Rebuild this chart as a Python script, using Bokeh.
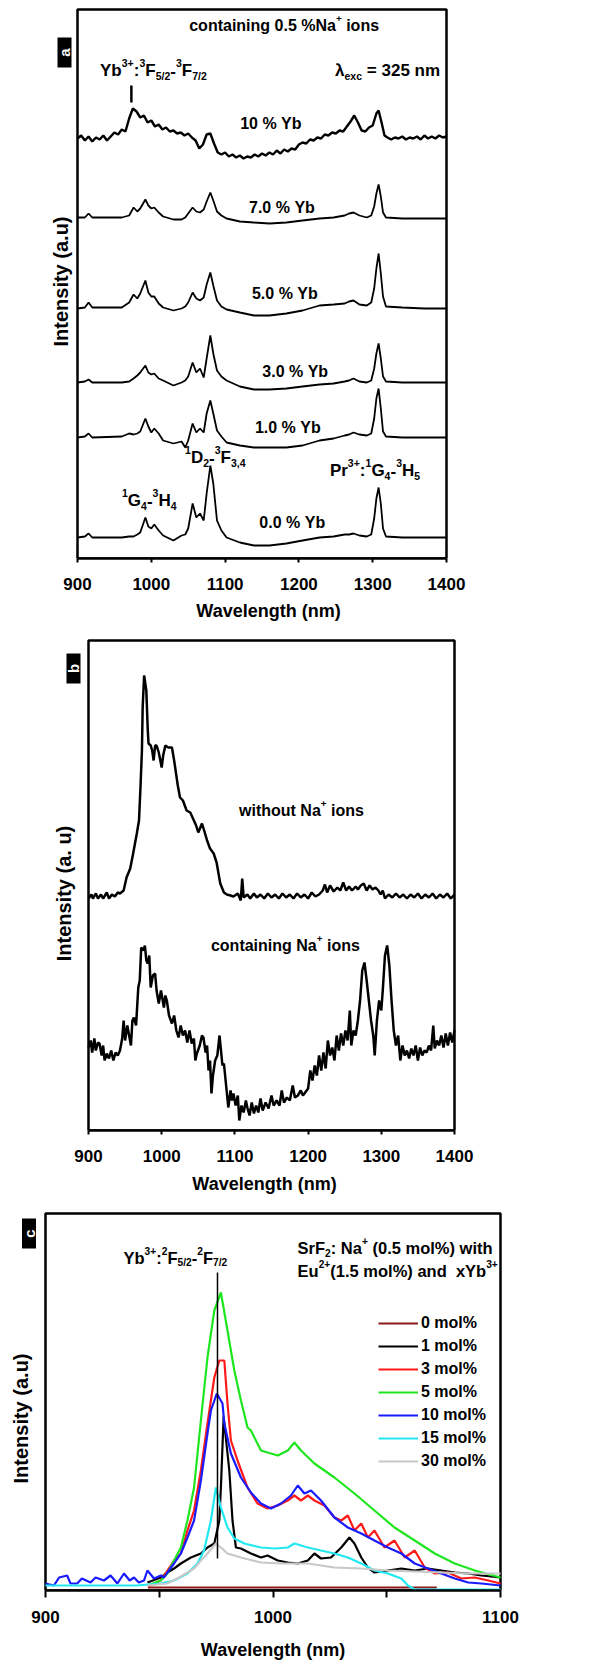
from math import pi
from bokeh.plotting import figure
from bokeh.models import Label, Legend, LegendItem, FixedTicker, Range1d
from bokeh.embed import file_html
from bokeh.resources import INLINE

FONT = "Liberation Sans"
NB = "\u00a0"

# ---------------- Panel a data (stacked spectra, a.u. incl. offsets) ----------------
a10_nm = [900, 905, 910, 915, 920, 925, 930, 935, 940, 945, 950, 955, 960, 965, 970, 975, 980, 985, 990, 995,
          1000, 1005, 1010, 1015, 1020, 1025, 1030, 1035, 1040, 1045, 1050, 1055, 1060, 1065, 1070, 1075, 1080, 1085, 1090, 1095,
          1100, 1105, 1110, 1115, 1120, 1125, 1130, 1135, 1140, 1145, 1150, 1155, 1160, 1165, 1170, 1175, 1180, 1185, 1190, 1195,
          1200, 1205, 1210, 1215, 1220, 1225, 1230, 1235, 1240, 1245, 1250, 1255, 1260, 1265, 1270, 1275, 1280, 1285, 1290, 1295,
          1300, 1305, 1308, 1312, 1316, 1320, 1325, 1330, 1335, 1340, 1345, 1350, 1355, 1360, 1365, 1370, 1375, 1380, 1385, 1390,
          1395, 1400]
a10_val = [420, 423, 418, 422, 417, 421, 419, 423, 418, 422, 426, 424, 429, 427, 440, 450, 447, 441, 443, 436,
           438, 432, 434, 429, 431, 427, 428, 425, 426, 423, 425, 421, 418, 410, 414, 424, 425, 415, 406, 404,
           406, 402, 404, 401, 403, 400, 402, 401, 404, 402, 405, 403, 406, 404, 408, 405, 409, 407, 410, 409,
           414, 416, 415, 419, 418, 421, 420, 424, 423, 426, 425, 428, 427, 432, 437, 443, 436, 428, 427, 431,
           433, 445, 448, 436, 423, 421, 419, 421, 420, 422, 419, 421, 420, 422, 419, 423, 420, 422, 420, 423,
           421, 422]

a_nm = [900, 910, 915, 920, 960, 970, 976, 981, 985, 992, 996, 1000, 1004, 1010, 1016, 1030, 1041, 1046, 1050, 1056,
        1061, 1066, 1071, 1075, 1080, 1084, 1089, 1095, 1102, 1120, 1139, 1160, 1183, 1205, 1228, 1247, 1262, 1268, 1274, 1282,
        1292, 1298, 1302, 1305, 1308, 1311, 1314, 1318, 1340, 1370, 1400]
a7_val = [341, 341, 345, 341, 341, 343, 351, 347, 350, 359, 353, 350, 351, 346, 342, 339, 339, 341, 345, 351,
          347, 346, 349, 357, 366, 358, 347, 343, 340, 337, 336, 335, 336, 338, 340, 341, 343, 345, 346, 343,
          341, 343, 352, 365, 374, 362, 346, 341, 340, 340, 340]
a5_val = [250, 251, 256, 251, 251, 256, 264, 260, 265, 278, 266, 262, 262, 255, 251, 248, 250, 252, 256, 266,
          260, 258, 261, 274, 286, 273, 258, 252, 249, 246, 243, 243, 245, 248, 253, 254, 255, 257, 258, 254,
          253, 256, 270, 290, 305, 285, 262, 252, 251, 250, 250]
a3_val = [176, 177, 179, 176, 176, 177, 180, 183, 186, 193, 186, 184, 185, 180, 178, 173, 176, 178, 182, 196,
          186, 190, 181, 200, 223, 205, 188, 182, 178, 172, 169, 169, 170, 172, 174, 175, 177, 178, 180, 177,
          176, 178, 190, 205, 215, 200, 182, 177, 176, 176, 176]
a1_val = [121, 122, 125, 121, 122, 125, 124, 125, 127, 140, 132, 126, 130, 125, 118, 115, 117, 111, 118, 135,
          126, 130, 126, 145, 158, 145, 128, 122, 116, 113, 111, 111, 111, 113, 118, 120, 123, 124, 126, 124,
          123, 125, 140, 160, 170, 150, 127, 122, 121, 121, 121]
a0_val = [21, 22, 25, 21, 21, 22, 22, 24, 26, 41, 32, 30, 34, 28, 23, 18, 23, 24, 30, 55,
          41, 45, 38, 65, 93, 75, 38, 28, 21, 16, 13, 13, 15, 18, 21, 22, 24, 24, 25, 23,
          22, 24, 40, 60, 71, 55, 30, 22, 21, 21, 21]
a_labels = ["10 % Yb", "7.0 % Yb", "5.0 % Yb", "3.0 % Yb", "1.0 % Yb", "0.0 % Yb"]
yb_marker_a_nm = [973]

# ---------------- Panel b data ----------------
b_wo_nm = [900, 904, 906, 910, 913, 917, 920, 925, 928, 932, 936, 940, 943, 948, 952, 957, 961, 966, 969, 971,
           973, 974, 976, 978, 979, 981, 982, 985, 987, 989, 991, 993, 996, 1000, 1002, 1005, 1009, 1014, 1017, 1019,
           1022, 1025, 1029, 1034, 1039, 1044, 1047, 1050, 1055, 1058, 1062, 1066, 1071, 1075, 1080, 1085, 1089, 1094, 1098, 1104,
           1108, 1110, 1112, 1117, 1121, 1126, 1130, 1135, 1140, 1145, 1150, 1155, 1160, 1165, 1170, 1175, 1180, 1185, 1190, 1195,
           1200, 1205, 1210, 1215, 1220, 1223, 1226, 1230, 1235, 1240, 1244, 1248, 1252, 1256, 1260, 1265, 1268, 1272, 1276, 1280,
           1284, 1288, 1292, 1296, 1299, 1302, 1305, 1310, 1315, 1320, 1325, 1330, 1335, 1340, 1345, 1350, 1355, 1360, 1365, 1370,
           1375, 1380, 1385, 1390, 1395, 1400]
b_wo_val = [232, 236, 232, 237, 232, 236, 232, 238, 232, 236, 234, 238, 237, 240, 253, 262, 277, 297, 310, 343,
            380, 423, 455, 445, 440, 400, 387, 385, 380, 370, 385, 385, 378, 363, 375, 385, 383, 383, 370, 360,
            345, 333, 330, 320, 318, 310, 305, 298, 307, 300, 290, 282, 277, 268, 247, 238, 236, 235, 234, 237,
            230, 252, 233, 236, 232, 237, 233, 236, 232, 237, 233, 236, 232, 237, 233, 236, 232, 237, 233, 236,
            232, 238, 234, 236, 240, 246, 238, 245, 239, 243, 240, 248, 240, 244, 240, 244, 241, 245, 247, 240,
            245, 241, 243, 240, 236, 240, 232, 236, 233, 237, 233, 236, 232, 236, 233, 237, 232, 236, 233, 237,
            232, 236, 233, 237, 232, 236]
b_na_nm = [900, 903, 905, 908, 910, 913, 915, 918, 920, 922, 925, 928, 931, 934, 937, 940, 943, 946, 948, 950,
           953, 955, 958, 960, 962, 965, 968, 970, 972, 975, 977, 979, 981, 983, 985, 988, 991, 993, 996, 999,
           1003, 1005, 1007, 1010, 1014, 1017, 1020, 1023, 1026, 1029, 1032, 1035, 1038, 1041, 1044, 1046, 1048, 1052, 1055, 1057,
           1060, 1062, 1064, 1066, 1068, 1070, 1073, 1076, 1079, 1081, 1083, 1085, 1088, 1091, 1094, 1096, 1098, 1101, 1104, 1106,
           1109, 1112, 1115, 1117, 1120, 1123, 1126, 1129, 1132, 1135, 1138, 1142, 1146, 1150, 1153, 1157, 1161, 1164, 1167, 1171,
           1175, 1179, 1182, 1186, 1190, 1193, 1196, 1200, 1203, 1206, 1209, 1212, 1215, 1218, 1221, 1224, 1227, 1230, 1233, 1236,
           1239, 1242, 1245, 1248, 1251, 1254, 1257, 1259, 1262, 1265, 1268, 1271, 1274, 1277, 1280, 1283, 1286, 1289, 1291, 1294,
           1297, 1300, 1302, 1305, 1308, 1311, 1314, 1317, 1320, 1323, 1326, 1329, 1332, 1335, 1338, 1341, 1344, 1347, 1350, 1353,
           1356, 1359, 1362, 1365, 1368, 1371, 1373, 1376, 1379, 1382, 1385, 1388, 1391, 1394, 1397, 1400]
b_na_val = [83, 90, 78, 92, 80, 88, 87, 75, 85, 70, 77, 72, 80, 70, 78, 75, 80, 92, 110, 90,
            105, 97, 85, 110, 113, 105, 143, 150, 183, 180, 185, 170, 167, 175, 143, 155, 157, 140, 127, 140,
            123, 135, 130, 115, 107, 115, 100, 93, 105, 95, 100, 88, 100, 87, 92, 70, 77, 85, 95, 93,
            78, 85, 60, 70, 37, 55, 70, 75, 95, 80, 65, 67, 45, 23, 40, 30, 37, 25, 35, 10,
            25, 18, 30, 23, 15, 28, 17, 25, 18, 32, 20, 28, 22, 35, 25, 30, 25, 40, 28, 33,
            30, 45, 33, 35, 40, 35, 38, 42, 60, 50, 65, 55, 75, 60, 78, 62, 90, 75, 83, 70,
            95, 80, 97, 85, 100, 90, 120, 85, 100, 95, 110, 130, 160, 168, 150, 130, 110, 95, 75, 110,
            130, 120, 140, 175, 185, 165, 130, 100, 85, 95, 70, 85, 75, 80, 72, 82, 75, 85, 70, 83,
            75, 80, 78, 85, 80, 105, 82, 90, 85, 95, 83, 97, 85, 98, 88, 100]

# ---------------- Panel c data ----------------
c_labels = ["0 mol%", "1 mol%", "3 mol%", "5 mol%", "10 mol%", "15 mol%", "30 mol%"]
c_colors = ["#8b1a1a", "#000000", "#ff1a1a", "#1ee61e", "#1a1aff", "#22e8f2", "#c8c8c8"]
c0_nm = [945, 1072]
c0_val = [1, 1]
c1_nm = [944.8, 950.7, 953.6, 956.5, 959.5, 963.9, 968.3, 971.2, 974.2, 976.4, 977.1, 978.3, 979.3, 980.8, 982.2,
         983.7, 985.9, 990.3, 994.7, 997.6, 1002.1, 1006.5, 1010.9, 1015.3, 1018.2, 1021.1, 1025.5, 1030, 1033.6,
         1035.8, 1038.8, 1041.7, 1044.6, 1050.5, 1056.4, 1062.3, 1068.1, 1074, 1079.9, 1085.8, 1091.6, 1100]
c1_val = [6, 11, 16, 20, 25, 31, 35, 41, 45, 68, 101, 172, 150, 118, 68,
          41, 40, 35, 31, 33, 28, 26, 25, 28, 35, 30, 31, 41, 51,
          45, 31, 21, 16, 18, 20, 18, 20, 18, 16, 15, 13, 11]
c3_nm = [945, 950.7, 953.6, 956.5, 959.5, 962.4, 965.3, 968.3, 971.2, 974.2, 976.4, 978.6, 980, 981.5, 984.4,
         988.8, 993.2, 997.6, 1002.1, 1006.5, 1009.4, 1012.3, 1015.3, 1018.2, 1022.6, 1027, 1030, 1032.9, 1035.8,
         1038.8, 1041.7, 1044.6, 1049, 1053.4, 1057.9, 1062.3, 1066.7, 1071.1, 1076.9, 1082.8, 1088.7, 1094.6, 1100]
c3_val = [2, 8, 18, 28, 35, 58, 78, 118, 165, 211, 228, 228, 185, 148, 128,
          101, 85, 80, 83, 88, 93, 88, 93, 88, 83, 71, 68, 73, 58,
          65, 51, 58, 41, 48, 31, 38, 21, 15, 16, 10, 11, 8, 5]
c5_nm = [945, 950.7, 953.6, 956.5, 959.5, 962.4, 965.3, 968.3, 971.2, 974.2, 977.1, 980, 983, 985.9, 988.8,
         990.3, 994.7, 997.6, 1002.1, 1006.5, 1009.4, 1012.3, 1018.2, 1027, 1035.8, 1044.6, 1053.4, 1062.3, 1071.1,
         1079.9, 1088.7, 1100]
c5_val = [3, 8, 15, 28, 41, 68, 101, 168, 231, 278, 296, 258, 218, 188, 161,
          158, 138, 136, 133, 138, 146, 138, 125, 111, 95, 78, 61, 48, 35,
          25, 18, 11]
c10_nm = [900, 903.7, 906, 909.5, 911, 913.9, 916, 919.8, 922, 925.7, 928.6, 931.6, 934.5, 937, 938.9,
          941, 943.3, 944.8, 947.7, 950.7, 952.1, 953.6, 956.5, 959.5, 962.4, 965.3, 968.3, 971.2, 972.7, 975.3,
          977.8, 978.6, 981.5, 985.9, 990.3, 994.7, 999.1, 1003.5, 1007.9, 1010.9, 1013.8, 1016.7, 1021.1, 1027, 1032.9,
          1038.8, 1044.6, 1050.5, 1056.4, 1062.3, 1068.1, 1074, 1079.9, 1085.8, 1091.6, 1100]
c10_val = [5, 3, 11, 13, 5, 5, 10, 6, 11, 8, 13, 5, 15, 8, 11,
           6, 8, 18, 10, 13, 11, 16, 25, 35, 51, 68, 108, 155, 178, 195,
           185, 165, 135, 111, 96, 85, 80, 85, 93, 103, 95, 98, 88, 71, 61,
           55, 48, 41, 35, 25, 20, 15, 10, 6, 5, 3]
c15_nm = [900, 920, 940, 950.7, 956.5, 962.4, 966.8, 969.7, 972.7, 974.9, 977.1, 980, 983, 987.4, 994.7,
          1000.6, 1006.5, 1009.4, 1015.3, 1021.1, 1027, 1032.9, 1038.8, 1044.6, 1050.5, 1056.4, 1059.3, 1062.3, 1080, 1100]
c15_val = [3, 3, 3, 5, 8, 15, 25, 38, 68, 101, 81, 61, 50, 45, 41,
           40, 41, 45, 41, 38, 35, 31, 25, 18, 15, 10, 3, -1, -1, -1]
c30_nm = [944.8, 953.6, 959.5, 965.3, 968.3, 971.2, 974.9, 977.1, 980, 985.9, 994.7, 1003.5, 1015.3, 1027, 1038.8,
          1050.5, 1062.3, 1074, 1085.8, 1100]
c30_val = [3, 5, 12, 20, 28, 35, 45, 41, 35, 31, 26, 25, 25, 21, 20, 18, 17, 16, 15, 15]
yb_marker_c_nm = [975.6]

# ---------------- helpers ----------------
AW = {' ': 278, NB: 278, '%': 889, '(': 333, ')': 333, '+': 584, ',': 278, '-': 333, '.': 278, '/': 278, ':': 333,
      '=': 584, 'A': 722, 'D': 722, 'E': 667, 'F': 611, 'G': 778, 'H': 722, 'N': 722, 'P': 667, 'S': 667, 'Y': 667,
      'W': 944, 'I': 278, 'a': 556, 'b': 611, 'c': 556, 'd': 611, 'e': 556, 'g': 611, 'h': 611, 'i': 278, 'l': 278,
      'm': 889, 'n': 611, 'o': 611, 'r': 389, 's': 556, 't': 333, 'u': 611, 'v': 556, 'w': 778, 'x': 556, 'y': 556}


def tw(s, size):
    return sum(AW.get(ch, 556) for ch in s) / 1000.0 * size


def rich(p, x, y, segs, size, align="left"):
    parts = []
    for t, k in segs:
        t = t.replace(" ", NB)
        fs = size if k == "n" else size * 0.62
        dy = 0 if k == "n" else (0.42 * size if k == "sup" else -0.32 * size)
        parts.append((t, fs, dy, tw(t, fs)))
    total = sum(q[3] for q in parts)
    cur = -total / 2.0 if align == "center" else 0.0
    for t, fs, dy, w in parts:
        p.add_layout(Label(x=x, y=y, x_offset=cur, y_offset=dy, text=t, text_font=FONT,
                           text_font_style="bold", text_font_size=f"{fs:.1f}px",
                           text_baseline="middle", text_align="left", text_color="black"))
        cur += w


class Panel:
    """Maps page pixels to data units for one panel (1 y-unit per pixel)."""

    def __init__(self, x0, x1, L, R, ybot, ytop, B, T):
        self.x0, self.x1, self.L, self.R = x0, x1, L, R
        self.ybot, self.ytop, self.B, self.T = ybot, ytop, B, T
        self.s = (R - L) / float(x1 - x0)

    def gx(self, px):
        return self.x0 + (px - self.L) / self.s

    def gy(self, py):
        return self.ybot + (self.B - py)


def make_fig(g, FL, FR, FT, canvas_top, canvas_bottom, ticks, minor, tick_out, lab_stand, title_stand,
             ylabel, ylab_px, ylab_py, letter, box_px, box_py):
    xr = Range1d(g.gx(FL), g.gx(FR))
    yr = Range1d(g.ybot, g.gy(FT))
    p = figure(x_range=xr, y_range=yr, frame_width=FR - FL, frame_height=g.B - FT,
               min_border_left=FL, min_border_right=590 - FR, min_border_top=FT - canvas_top,
               min_border_bottom=canvas_bottom - g.B, output_backend="svg", toolbar_location=None, tools="")
    p.xgrid.visible = False
    p.ygrid.visible = False
    p.outline_line_color = None
    p.background_fill_color = "white"
    p.border_fill_color = "white"
    p.yaxis.visible = False
    ax = p.xaxis
    ax.bounds = (g.x0, g.x1)
    ax.ticker = FixedTicker(ticks=ticks, minor_ticks=minor)
    ax.axis_line_width = 2.5
    ax.major_tick_line_width = 2
    ax.minor_tick_line_width = 2
    ax.major_tick_out = tick_out
    ax.major_tick_in = 0
    ax.minor_tick_out = tick_out
    ax.minor_tick_in = 0
    ax.major_label_standoff = lab_stand
    ax.major_label_text_font = FONT
    ax.major_label_text_font_style = "bold"
    ax.major_label_text_font_size = "17px"
    ax.major_label_text_color = "black"
    ax.axis_label = "Wavelength (nm)"
    ax.axis_label_text_font = FONT
    ax.axis_label_text_font_style = "bold"
    ax.axis_label_text_font_size = "18px"
    ax.axis_label_text_color = "black"
    ax.axis_label_standoff = title_stand
    # plot box around the data area
    p.quad(left=[g.x0], right=[g.x1], bottom=[g.ybot], top=[g.ytop], fill_color=None,
           line_color="black", line_width=2.5)
    # y-axis title
    p.add_layout(Label(x=g.gx(ylab_px), y=g.gy(ylab_py), text=ylabel, angle=pi / 2, text_align="center",
                       text_baseline="middle", text_font=FONT, text_font_style="bold", text_font_size="20px",
                       text_color="black"))
    # panel letter in a black box (14 x 30 px)
    bx, by = g.gx(box_px), g.gy(box_py)
    p.rect(x=[bx], y=[by], width=14, height=30, width_units="screen", height_units="screen",
           fill_color="black", line_color=None)
    p.add_layout(Label(x=bx, y=by, text=letter, angle=pi / 2, text_align="center", text_baseline="middle",
                       text_color="white", text_font=FONT, text_font_style="bold", text_font_size="15px"))
    return p


# ---------------- Panel a ----------------
ga = Panel(900, 1400, 77, 446, 0, 549, 558, 9)
pa = make_fig(ga, 30, 506, 5, 0, 626, [900, 1000, 1100, 1200, 1300, 1400], [], 4, 15, 8,
              "Intensity (a.u)", 60, 281, "a", 64, 52)
pa.line(a10_nm, a10_val, line_color="black", line_width=2.4)
for vals in [a7_val, a5_val, a3_val, a1_val, a0_val]:
    pa.line(a_nm, vals, line_color="black", line_width=1.8)
pa.segment(x0=yb_marker_a_nm, y0=[456], x1=yb_marker_a_nm, y1=[473], line_color="black", line_width=2.5)

label_pos_a = [(1162, 435), (1177, 351), (1181, 265), (1195, 187), (1185, 131), (1191, 36)]
for txt, (lx, ly) in zip(a_labels, label_pos_a):
    rich(pa, lx, ly, [(txt, "n")], 16, "center")
rich(pa, 1180, 533, [("containing 0.5 %Na", "n"), ("+", "sup"), (" ions", "n")], 16, "center")
rich(pa, 930.5, 488, [("Yb", "n"), ("3+", "sup"), (":", "n"), ("3", "sup"), ("F", "n"), ("5/2", "sub"),
                      ("-", "n"), ("3", "sup"), ("F", "n"), ("7/2", "sub")], 17)
rich(pa, 1249, 488, [("\u03bb", "n"), ("exc", "sub"), (" = 325 nm", "n")], 17)
rich(pa, 1045.7, 101, [("1", "sup"), ("D", "n"), ("2", "sub"), ("-", "n"), ("3", "sup"), ("F", "n"), ("3,4", "sub")], 17)
rich(pa, 960.3, 58, [("1", "sup"), ("G", "n"), ("4", "sub"), ("-", "n"), ("3", "sup"), ("H", "n"), ("4", "sub")], 17)
rich(pa, 1242, 88, [("Pr", "n"), ("3+", "sup"), (":", "n"), ("1", "sup"), ("G", "n"), ("4", "sub"), ("-", "n"),
                    ("3", "sup"), ("H", "n"), ("5", "sub")], 17)

# ---------------- Panel b ----------------
gb = Panel(900, 1400, 88, 454, 0, 490, 1130, 640)
pb = make_fig(gb, 40, 488, 636, 626, 1199, [900, 1000, 1100, 1200, 1300, 1400], [], 4, 15, 9,
              "Intensity (a. u)", 63, 893, "b", 73, 668)
pb.line(b_wo_nm, b_wo_val, line_color="black", line_width=2.5)
pb.line(b_na_nm, b_na_val, line_color="black", line_width=2.5)
rich(pb, 1191, 320, [("without Na", "n"), ("+", "sup"), (" ions", "n")], 16, "center")
rich(pb, 1169, 185, [("containing Na", "n"), ("+", "sup"), (" ions", "n")], 16, "center")

# ---------------- Panel c ----------------
gc = Panel(900, 1100, 45, 500, -2, 375, 1590, 1213)
pc = make_fig(gc, 4, 541, 1207, 1199, 1665, [900, 1000, 1100], [950, 1050], 7, 13, 14,
              "Intensity (a.u)", 20, 1418, "c", 28.5, 1233)
c_series = [(c0_nm, c0_val), (c1_nm, c1_val), (c3_nm, c3_val), (c5_nm, c5_val),
            (c10_nm, c10_val), (c15_nm, c15_val), (c30_nm, c30_val)]
items = []
for (xs, ys), col, lab in zip(c_series, c_colors, c_labels):
    r = pc.line(xs, ys, line_color=col, line_width=2.2)
    items.append(LegendItem(label=lab, renderers=[r]))
pc.segment(x0=yb_marker_c_nm, y0=[30], x1=yb_marker_c_nm, y1=[316], line_color="black", line_width=1.5)
legend = Legend(items=items, location=(374, 119), glyph_width=40, glyph_height=20, spacing=3, padding=0,
                margin=0, label_standoff=3, label_height=20, label_text_font=FONT, label_text_font_style="bold",
                label_text_font_size="16px", label_text_color="black", border_line_alpha=0,
                background_fill_alpha=0)
pc.add_layout(legend)
rich(pc, 934.3, 331, [("Yb", "n"), ("3+", "sup"), (":", "n"), ("2", "sup"), ("F", "n"), ("5/2", "sub"),
                      ("-", "n"), ("2", "sup"), ("F", "n"), ("7/2", "sub")], 16.5)
rich(pc, 1010.8, 341, [("SrF", "n"), ("2", "sub"), (": Na", "n"), ("+", "sup"), (" (0.5 mol%) with", "n")], 16.5)
rich(pc, 1010.8, 318, [("Eu", "n"), ("2+", "sup"), ("(1.5 mol%) and  xYb", "n"), ("3+", "sup")], 16.5)

open("out.html", "w").write(file_html([pa, pb, pc], INLINE))
